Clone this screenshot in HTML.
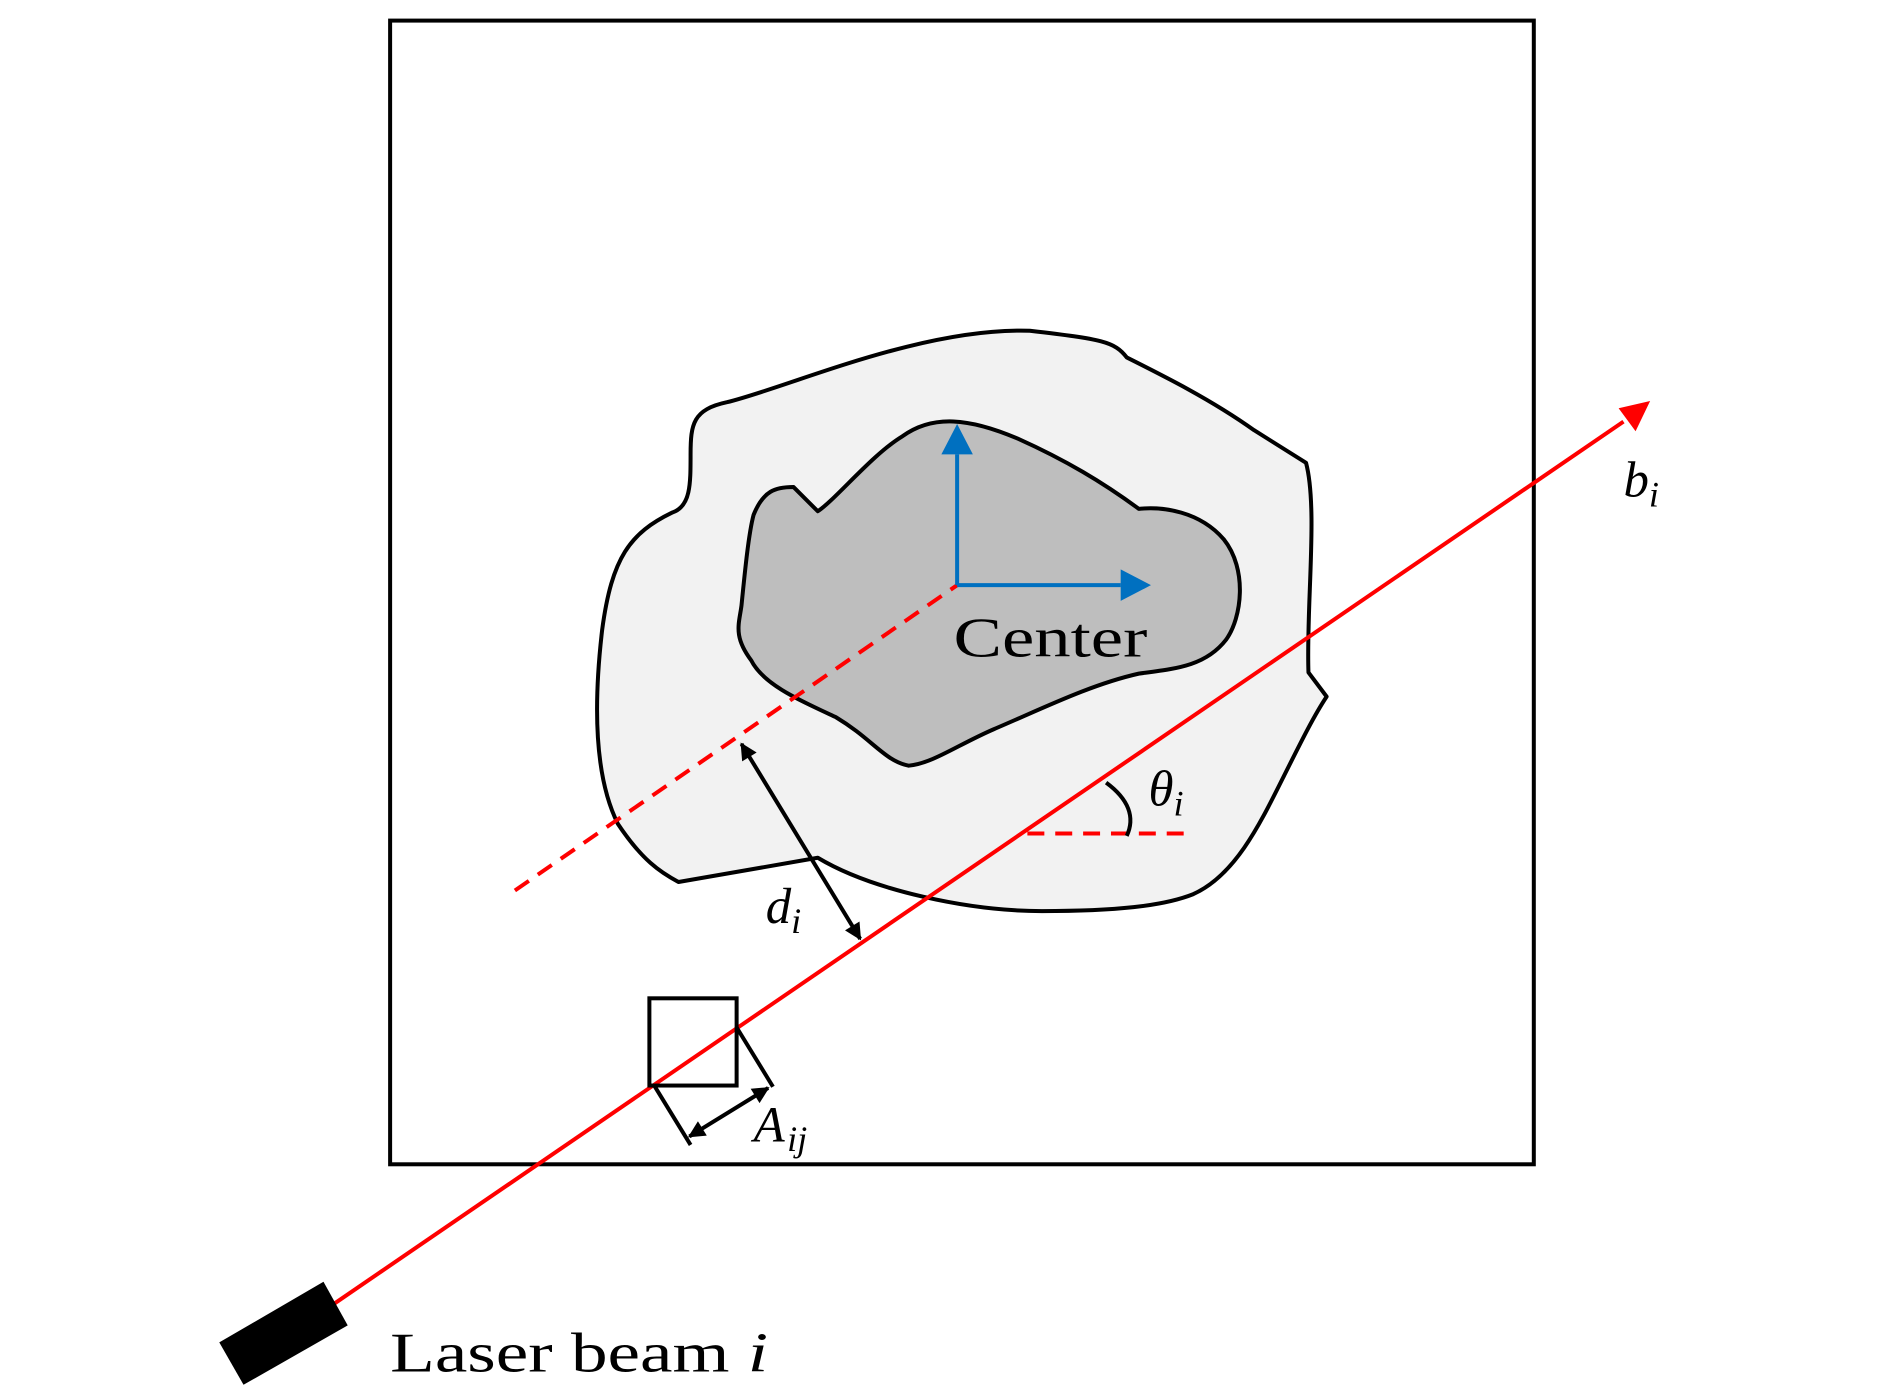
<!DOCTYPE html>
<html><head><meta charset="utf-8"><style>html,body{margin:0;padding:0;background:#fff}svg{display:block}</style></head>
<body>
<svg width="1890" height="1394" viewBox="0 0 1560 1150.6" xmlns="http://www.w3.org/2000/svg" font-family="'Liberation Serif', serif">
<defs>
<marker id="ar" viewBox="0 0 10 10" refX="9" refY="5" markerWidth="16" markerHeight="14" markerUnits="userSpaceOnUse" orient="auto"><path d="M0,0 L10,5 L0,10 z" fill="#000"/></marker>
<marker id="al" viewBox="0 0 10 10" refX="1" refY="5" markerWidth="16" markerHeight="14" markerUnits="userSpaceOnUse" orient="auto"><path d="M10,0 L0,5 L10,10 z" fill="#000"/></marker>
</defs>
<rect x="322" y="17" width="944" height="944" fill="none" stroke="#000" stroke-width="3.3"/>
<path d="M560,728 L675,708 C720,735 800,752 860,752 C920,752 960,748 985,738 C1020,722 1040,680 1060,640 C1075,610 1085,590 1095,575 L1080,555 C1078,500 1088,420 1078,382 L1035,355 C1000,330 960,310 930,295 C920,282 910,280 850,273 C760,270 650,320 600,332 C572,338 570,350 570,375 C570,400 570,418 555,423 C520,440 505,460 497,520 C490,580 490,640 510,680 C530,710 545,720 560,728 Z" fill="#f2f2f2" stroke="#000" stroke-width="3.3" stroke-linejoin="round"/>
<path d="M750,632 C730,628 720,610 690,592 C660,578 630,565 620,545 C605,525 610,515 612,500 C615,470 618,440 622,425 C630,405 640,402 655,402 L675,422 C690,412 720,375 745,360 C770,342 800,345 840,362 C880,380 910,398 940,420 C960,418 990,422 1010,445 C1030,470 1025,510 1012,528 C995,550 970,552 940,556 C900,565 860,585 820,602 C790,615 770,630 750,632 Z" fill="#bebebe" stroke="#000" stroke-width="3.3" stroke-linejoin="round"/>
<line x1="425" y1="735" x2="790" y2="483" stroke="#f00" stroke-width="3.3" stroke-dasharray="14,9"/>
<line x1="848" y1="688" x2="985" y2="688" stroke="#f00" stroke-width="3.3" stroke-dasharray="14,9"/>
<path d="M913,646 C932,660 937,675 930,690" fill="none" stroke="#000" stroke-width="3.3"/>
<line x1="790" y1="483" x2="790" y2="375" stroke="#0070c0" stroke-width="3.3"/>
<path d="M777,375 L790,350 L803,375 z" fill="#0070c0"/>
<line x1="790" y1="483" x2="925" y2="483" stroke="#0070c0" stroke-width="3.3"/>
<path d="M925,470 L950,483 L925,496 z" fill="#0070c0"/>
<text x="787" y="542" font-size="46" textLength="160" lengthAdjust="spacingAndGlyphs">Center</text>
<line x1="273" y1="1078" x2="1340" y2="348" stroke="#f00" stroke-width="3.3"/>
<path d="M1336,337 L1362,331 L1350,356 z" fill="#f00"/>
<path d="M181,1108 L267,1058 L287,1094 L201,1143 Z" fill="#000"/>
<line x1="612" y1="614" x2="710" y2="775" stroke="#000" stroke-width="3.3" marker-start="url(#al)" marker-end="url(#ar)"/>
<rect x="536" y="824" width="72" height="72" fill="none" stroke="#000" stroke-width="3.3"/>
<line x1="540" y1="896" x2="570" y2="945" stroke="#000" stroke-width="3.3"/>
<line x1="608" y1="848" x2="638" y2="897" stroke="#000" stroke-width="3.3"/>
<line x1="569" y1="938" x2="634" y2="898" stroke="#000" stroke-width="3.3" marker-start="url(#al)" marker-end="url(#ar)"/>
<text x="632" y="762" font-size="42" font-style="italic">d<tspan font-size="30" dy="8">i</tspan></text>
<text x="948" y="665" font-size="42" font-style="italic">θ<tspan font-size="30" dy="8">i</tspan></text>
<text x="622" y="942" font-size="42" font-style="italic">A<tspan font-size="30" dy="8" dx="2">ij</tspan></text>
<text x="1340" y="410" font-size="42" font-style="italic">b<tspan font-size="30" dy="8">i</tspan></text>
<text x="322" y="1132" font-size="46" textLength="312" lengthAdjust="spacingAndGlyphs">Laser beam  <tspan font-style="italic">i</tspan></text>
</svg>
</body></html>
